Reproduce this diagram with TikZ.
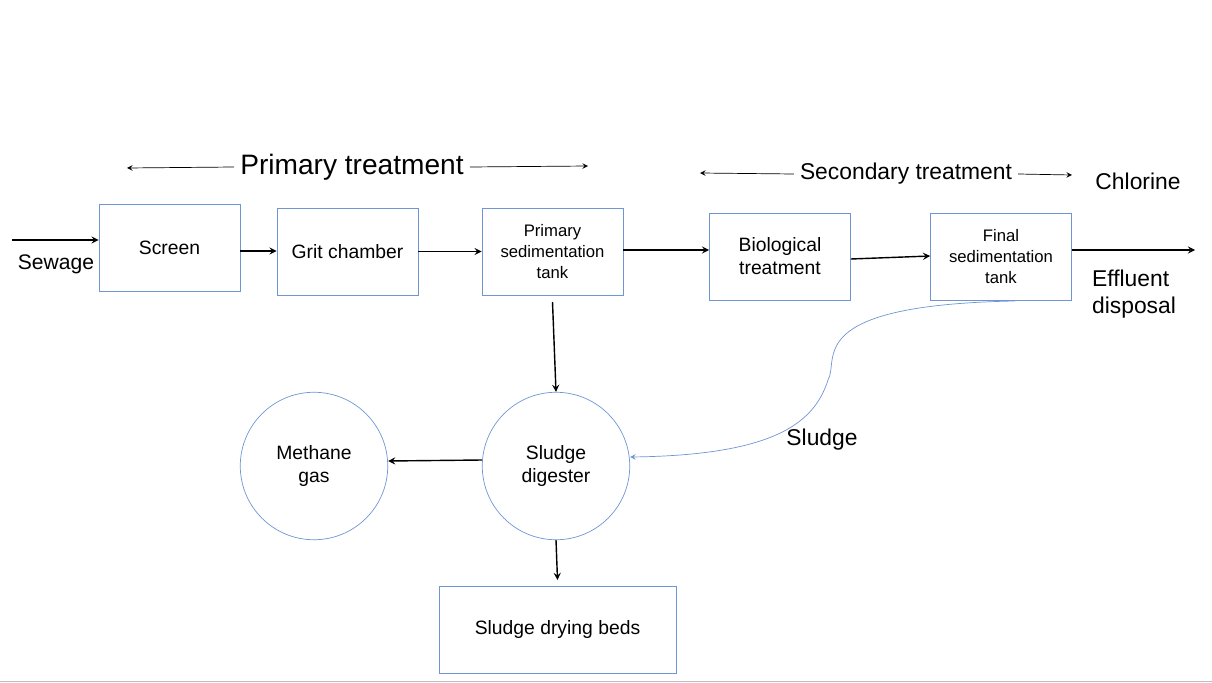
\documentclass[tikz,border=0pt]{standalone}
\usepackage{fontspec}
\setmainfont{Liberation Sans}
\definecolor{boxblue}{RGB}{110,150,210}
\tikzset{
  stage/.style={draw=boxblue, minimum width=2.82cm, minimum height=1.74cm, align=center, font=\fontsize{11}{13}\selectfont},
  small/.style={stage, font=\fontsize{9.5}{12}\selectfont},
  tank/.style={draw=boxblue, circle, minimum size=2.95cm, align=center, font=\fontsize{11}{13}\selectfont},
  flow/.style={-stealth, thick},
  lbl/.style={font=\fontsize{12}{15}\selectfont, align=left}
}
\begin{document}
\begin{tikzpicture}[x=0.02cm, y=-0.02cm]
        \useasboundingbox (0,0) rectangle (1212,682);
        \draw[gray!50] (0,681) -- (1212,681);
        % process line
        \node [stage] (screen) at (169.5,247.5) {Screen};
        \node [stage] (grit) at (347.5,251.5) {Grit chamber};
        \node [small] (prim) at (552.5,251.5) {Primary\\sedimentation\\tank};
        \node [stage] (bio) at (780,256.5) {Biological\\treatment};
        \node [small] (final) at (1001,256.5) {Final\\sedimentation\\tank};
        \node [tank] (meth) at (314,466) {Methane\\gas};
        \node [tank] (dig) at (556,466) {Sludge\\digester};
        \node [stage, minimum width=4.74cm] (beds) at (557.5,629.5) {Sludge drying beds};
        \coordinate (in) at (12,240);
        \coordinate (out) at (1195,250);
        \draw [flow] (in) -- (screen.west |- in);
        \draw [flow] (screen.east |- 0,251) -- (grit.west |- 0,251);
        \draw [flow] (grit.east) -- (prim.west);
        \draw [flow] (prim.east |- 0,250) -- (bio.west |- 0,250);
        \draw [flow] (bio.east |- 0,259) -- (final.west |- 0,256);
        \draw [flow] (final.east |- out) -- (out);
        \draw [flow] (prim.south |- 0,302) -- (dig.north);
        \draw [flow] (dig.west |- 0,460) -- (meth.east |- 0,461);
        \draw [flow] (dig.south) -- (beds.north |- 0,580);
        \draw [-stealth, boxblue] (1015,301) .. controls (800,305) and (840,360) .. (828,380)
              .. controls (815,420) and (780,455) .. (dig.east |- 0,457);
        % labels
        \node [lbl] (sew) at (56,264) {Sewage};
        \node [lbl, font=\fontsize{13}{15}\selectfont] (chl) at (1138,181) {Chlorine};
        \node [lbl, font=\fontsize{13}{15}\selectfont] (eff) at (1134,294) {Effluent\\disposal};
        \node [lbl, font=\fontsize{13}{15}\selectfont] (sl) at (822,440) {Sludge};
        \node [font=\fontsize{16}{18}\selectfont] (pt) at (352,167) {Primary treatment};
        \node [font=\fontsize{13}{15}\selectfont] (st) at (906,174) {Secondary treatment};
        \draw [-stealth] (pt.west) -- (127,168);
        \draw [-stealth] (pt.east) -- (588,166);
        \draw [-stealth] (st.west) -- (700,173);
        \draw [-stealth] (st.east) -- (1072,175);
\end{tikzpicture}
\end{document}
